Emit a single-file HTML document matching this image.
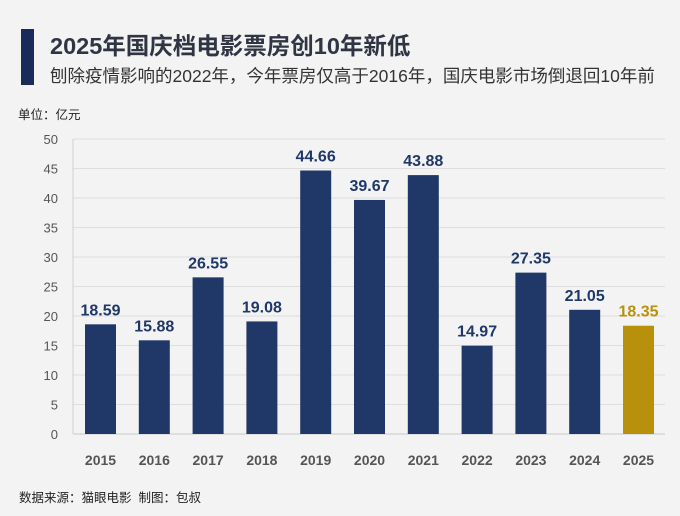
<!DOCTYPE html>
<html><head><meta charset="utf-8"><style>
body{margin:0;width:680px;height:516px;background:#f3f3f3;font-family:"Liberation Sans","Noto Sans CJK SC",sans-serif;overflow:hidden;position:relative}
.t{position:absolute;white-space:nowrap}
</style></head><body>
<div style="position:absolute;left:21px;top:29px;width:13px;height:56px;background:#1a2a5a"></div>
<div class="t" style="left:50px;top:27px;font-size:23.5px;font-weight:bold;color:#2f3542">2025年国庆档电影票房创10年新低</div>
<div class="t" style="left:50px;top:63px;font-size:17.5px;color:#333">刨除疫情影响的2022年，今年票房仅高于2016年，国庆电影市场倒退回10年前</div>
<div class="t" style="left:18px;top:104px;font-size:12.5px;color:#222">单位：亿元</div>
<div class="t" style="left:19px;top:487px;font-size:12.5px;color:#222">数据来源：猫眼电影&nbsp;&nbsp;制图：包叔</div>
<svg id="c" width="680" height="516" style="position:absolute;left:0;top:0"></svg>
<script>
const years=["2015","2016","2017","2018","2019","2020","2021","2022","2023","2024","2025"];
const values=[18.59,15.88,26.55,19.08,44.66,39.67,43.88,14.97,27.35,21.05,18.35];
const labels=["18.59","15.88","26.55","19.08","44.66","39.67","43.88","14.97","27.35","21.05","18.35"];
const ticks=[0,5,10,15,20,25,30,35,40,45,50];
const svg=document.getElementById('c');const NS="http://www.w3.org/2000/svg";
const y0=434,y1=139,xl=73,xr=665;
const y=v=>y0-(v/50)*(y0-y1);
const x=i=>100.5+i*53.8;
function mk(t,a,txt){const e=document.createElementNS(NS,t);for(const k in a)e.setAttribute(k,a[k]);if(txt!=null)e.textContent=txt;svg.appendChild(e);return e;}
ticks.forEach(v=>{
 const g=mk('line',{x1:xl,x2:xr,y1:y(v),y2:y(v),stroke:v===0?'#c8c8c8':'#dedede','stroke-width':1});
 
 
 const t=mk('text',{x:58,y:y(v)+5,'text-anchor':'end','font-size':13,fill:'#555','font-family':'Liberation Sans, sans-serif'},String(v));
 
 
});
const al=mk('line',{x1:xl,x2:xl,y1:y1,y2:y0,stroke:'#d0d0d0'});


years.forEach((yr,i)=>{
 const col=i===10?'#b8900c':'#1f3868';
 const b=mk('rect',{x:x(i)-15.5,y:y(values[i]),width:31,height:y0-y(values[i]),fill:col});
 
 
 const l=mk('text',{x:x(i),y:y(values[i])-9,'text-anchor':'middle','font-size':16,'font-weight':'bold',fill:i===10?'#b8900c':'#1f3868','font-family':'Liberation Sans, sans-serif'},labels[i]);
 
 
 const xt=mk('text',{x:x(i),y:465,'text-anchor':'middle','font-size':14,'font-weight':'bold',fill:'#555','font-family':'Liberation Sans, sans-serif'},yr);
 
 
});
</script>
</body></html>
